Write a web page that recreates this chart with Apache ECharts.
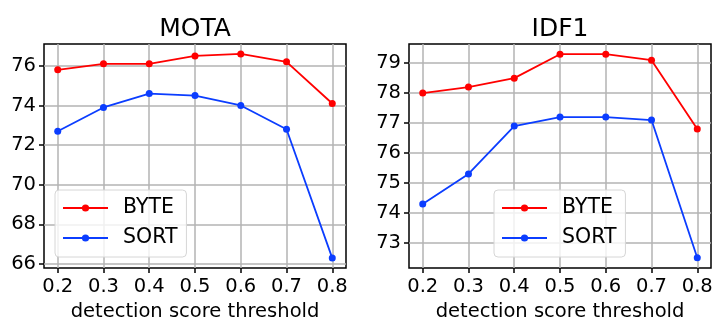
<!DOCTYPE html>
<html>
<head>
<meta charset="utf-8">
<script src="https://cdn.jsdelivr.net/npm/echarts@6/dist/echarts.min.js"></script>
<style>
html,body{margin:0;padding:0;background:#fff;}
#chart{width:726px;height:332px;}
</style>
</head>
<body>
<div id="chart"></div>
<script>
const thresholds = [0.2, 0.3, 0.4, 0.5, 0.6, 0.7, 0.8];
const motaByte = [75.8, 76.1, 76.1, 76.5, 76.6, 76.2, 74.1];
const motaSort = [72.7, 73.9, 74.6, 74.5, 74.0, 72.8, 66.3];
const idf1Byte = [78.0, 78.2, 78.5, 79.3, 79.3, 79.1, 76.8];
const idf1Sort = [74.3, 75.3, 76.9, 77.2, 77.2, 77.1, 72.5];
const motaTicks = [66, 68, 70, 72, 74, 76];
const idf1Ticks = [73, 74, 75, 76, 77, 78, 79];
const xTicks = [0.2, 0.3, 0.4, 0.5, 0.6, 0.7, 0.8];
const titles = ['MOTA', 'IDF1'];
const xName = 'detection score threshold';
const seriesNames = ['BYTE', 'SORT'];

const RED = '#ff0000';
const BLUE = '#0b3dff';
const FONT = 'DejaVu Sans';

const pair = (xs, ys) => xs.map((x, i) => [x, ys[i]]);

function xAxis(gridIndex) {
  return {
    type: 'value', gridIndex, min: 0.17, max: 0.83,
    name: xName, nameLocation: 'middle', nameGap: 28,
    nameTextStyle: {fontFamily: FONT, fontSize: 19.5, color: '#000'},
    axisLine: {show: false},
    axisTick: {show: true, length: 5, lineStyle: {color: '#000', width: 1.5}, customValues: xTicks},
    axisLabel: {customValues: xTicks, margin: 9, fontFamily: FONT, fontSize: 19.5, color: '#000',
      formatter: v => v.toFixed(1)},
    splitLine: {show: true, lineStyle: {color: '#b3b3b3', width: 1.5}}
  };
}
function yAxis(gridIndex, min, max, ticks) {
  return {
    type: 'value', gridIndex, min, max,
    axisLine: {show: false},
    axisTick: {show: true, length: 5, lineStyle: {color: '#000', width: 1.5}, customValues: ticks},
    axisLabel: {customValues: ticks, margin: 8, fontFamily: FONT, fontSize: 19.5, color: '#000'},
    splitLine: {show: true, lineStyle: {color: '#b3b3b3', width: 1.5}}
  };
}
function line(name, xi, data, color) {
  return {
    name, type: 'line', xAxisIndex: xi, yAxisIndex: xi, data,
    symbol: 'circle', symbolSize: 7, showSymbol: true,
    itemStyle: {color}, lineStyle: {color, width: 1.8},
    animation: false, z: 5
  };
}
function legend(left) {
  return {
    left, top: 190, orient: 'vertical',
    data: seriesNames,
    itemWidth: 45, itemHeight: 9, itemGap: 8,
    padding: [7, 9, 8, 7],
    backgroundColor: 'rgba(255,255,255,0.8)',
    borderColor: '#d6d6d6', borderWidth: 1, borderRadius: 4,
    textStyle: {fontFamily: FONT, fontSize: 20.5, color: '#000', lineHeight: 22, padding: [0, 0, 0, 10]},
    selectedMode: false
  };
}

const chart = echarts.init(document.getElementById('chart'), null, {renderer: 'canvas'});
chart.setOption({
  backgroundColor: '#fff',
  animation: false,
  title: [
    {text: titles[0], left: 195, textAlign: 'center', top: 17, padding: 0,
     textStyle: {fontFamily: FONT, fontSize: 25, fontWeight: 'normal', color: '#000'}},
    {text: titles[1], left: 560, textAlign: 'center', top: 17, padding: 0,
     textStyle: {fontFamily: FONT, fontSize: 25, fontWeight: 'normal', color: '#000'}}
  ],
  grid: [
    {left: 44, right: 380, top: 44, bottom: 64, show: true, borderColor: '#000', borderWidth: 1.5, backgroundColor: 'transparent'},
    {left: 409, right: 15, top: 44, bottom: 64, show: true, borderColor: '#000', borderWidth: 1.5, backgroundColor: 'transparent'}
  ],
  xAxis: [xAxis(0), xAxis(1)],
  yAxis: [yAxis(0, 65.8, 77.1, motaTicks), yAxis(1, 72.16, 79.64, idf1Ticks)],
  legend: [legend(55), legend(494)],
  series: [
    line(seriesNames[0], 0, pair(thresholds, motaByte), RED),
    line(seriesNames[1], 0, pair(thresholds, motaSort), BLUE),
    line(seriesNames[0], 1, pair(thresholds, idf1Byte), RED),
    line(seriesNames[1], 1, pair(thresholds, idf1Sort), BLUE)
  ]
});
</script>
</body>
</html>
